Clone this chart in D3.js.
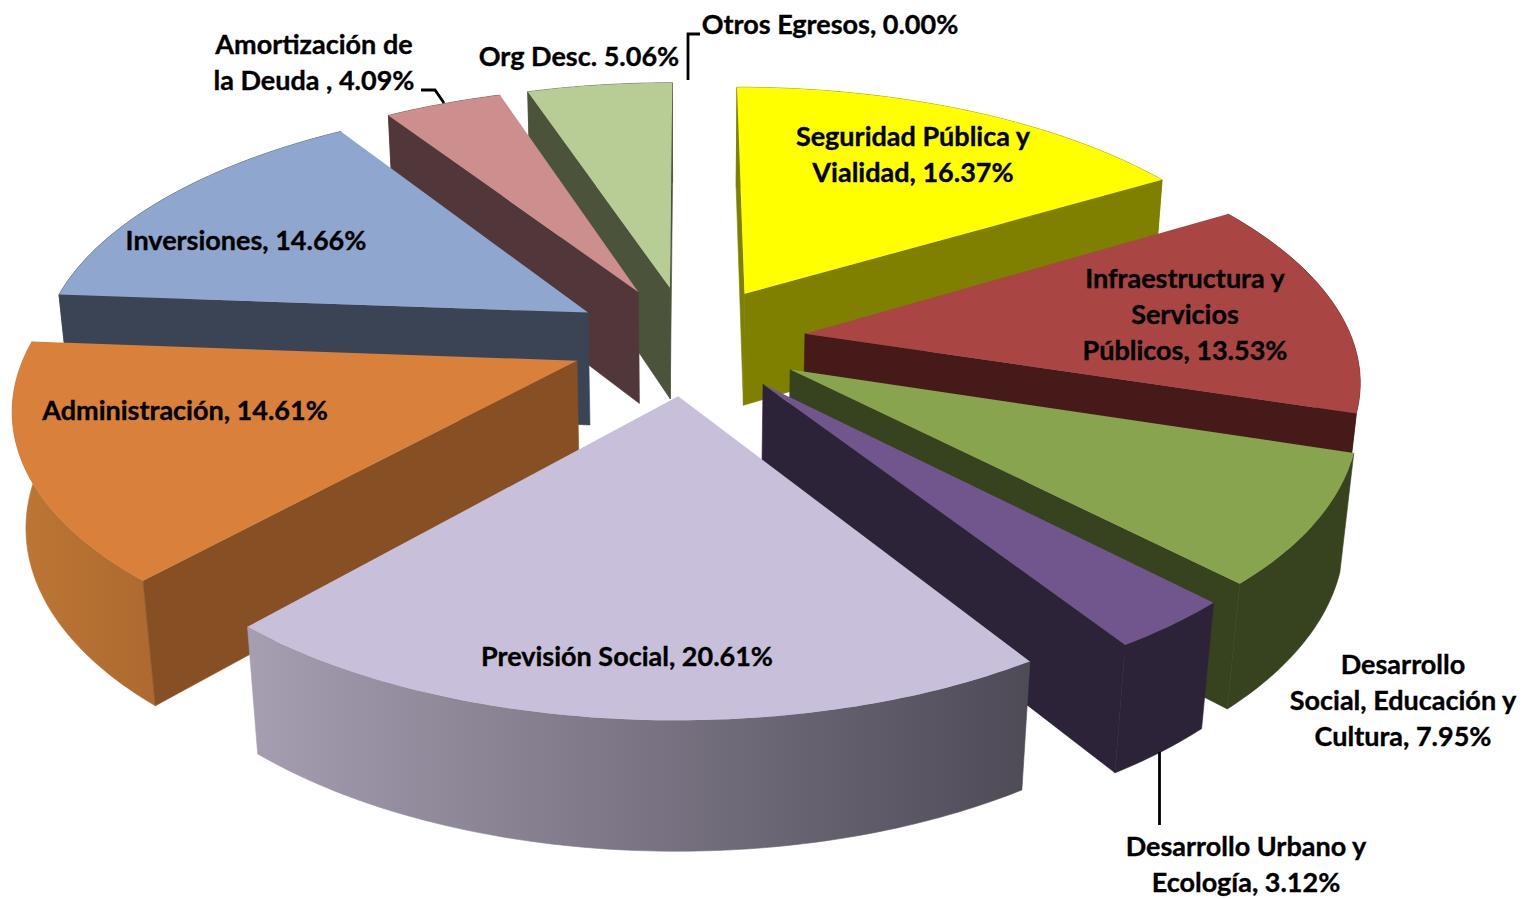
<!DOCTYPE html>
<html lang="es">
<head>
<meta charset="utf-8">
<script src="https://cdnjs.cloudflare.com/ajax/libs/d3/7.8.5/d3.min.js"></script>
<style>
html,body{margin:0;padding:0;background:#fff;overflow:hidden}
svg{display:block}
text{font-family:Lato,"Open Sans",sans-serif;font-weight:700;font-size:27px;fill:#000;stroke:#000;stroke-width:.35px;text-anchor:middle}
</style>
</head>
<body>
<svg id="chart" width="1524" height="899"></svg>
<script>
// DATA
const categories = ["Seguridad Pública y Vialidad","Infraestructura y Servicios Públicos","Desarrollo Social, Educación y Cultura","Desarrollo Urbano y Ecología","Previsión Social","Administración","Inversiones","Amortización de la Deuda","Org Desc.","Otros Egresos"];
const values = [16.37,13.53,7.95,3.12,20.61,14.61,14.66,4.09,5.06,0.00];
const labelLines = [
  ["Seguridad Pública y","Vialidad, 16.37%"],
  ["Infraestructura y","Servicios","Públicos, 13.53%"],
  ["Desarrollo","Social, Educación y","Cultura, 7.95%"],
  ["Desarrollo Urbano y","Ecología, 3.12%"],
  ["Previsión Social, 20.61%"],
  ["Administración, 14.61%"],
  ["Inversiones, 14.66%"],
  ["Amortización de","la Deuda , 4.09%"],
  ["Org Desc. 5.06%"],
  ["Otros Egresos, 0.00%"]
];

// STYLE
const topColors  = ["#ffff00","#a94543","#88a44e","#70568d","#c8bfda","#d9803a","#8fa6cf","#cd8e8e","#b8cc96","#cccccc"];
const sideColors = ["#7f7f00","#451a18","#37421e","#2d2338","#6f6a78","#875024","#3a4455","#52373a","#4b543a","#666666"];
const arcLeft    = ["#7f7f00","#451a18","#37421e","#2d2338","#a69eb1","#bd7734","#3a4455","#52373a","#4b543a","#666666"];
const arcRight   = ["#7f7f00","#451a18","#37421e","#2d2338","#4e4a56","#ad6930","#3a4455","#52373a","#4b543a","#666666"];

// LAYOUT: label anchor (centre x, first baseline y)
const labelX = [913,1185,1403,1246,627,185,246,314,579,830];
const labelY = [146,288,674,856,666,420,250,54,66,34];
const lineStep = 36;
const leaders = [
  [[688,80],[688,34],[700,34]],
  [[421,90],[435,90],[444,103]],
  [[1159.5,752],[1159.5,825]]
];

// CAMERA (perspective projection of the pie plane)
const cx = 688, cy = 340, sxScale = 550, syScale = 254;
const persp = 0.159, explode = 0.215, radius = 0.995, depth = 116, depthPersp = 0.02;
function project(u, v, bottom) {
  const w = 1 - persp * v + (bottom ? depthPersp : 0);
  return [cx + sxScale * u / w, cy + (syScale * v + (bottom ? depth : 0)) / w];
}

const arcs = d3.pie().sort(null).value(d => d).startAngle(0).endAngle(2 * Math.PI)(values);
const line = d3.line().curve(d3.curveLinearClosed);
const svg = d3.select("#chart");
const defs = svg.append("defs");

const slices = arcs.map((a, i) => {
  const mid = (a.startAngle + a.endAngle) / 2;
  const ou = explode * Math.sin(mid), ov = -explode * Math.cos(mid);
  const pt = (r, th, b) => project(ou + r * radius * Math.sin(th), ov - r * radius * Math.cos(th), b);
  const steps = Math.max(2, Math.ceil((a.endAngle - a.startAngle) / 0.015));
  const ths = d3.range(steps + 1).map(k => a.startAngle + (a.endAngle - a.startAngle) * k / steps);
  return {i, a, mid, pt, ths, order: -Math.cos(mid)};
}).filter(s => s.a.value > 0).sort((p, q) => p.order - q.order);

slices.forEach(s => {
  const g = svg.append("g");
  const {i, a, pt, ths} = s;
  const startWall = [pt(0,0,false), pt(1,a.startAngle,false), pt(1,a.startAngle,true), pt(0,0,true)];
  const endWall   = [pt(0,0,false), pt(1,a.endAngle,false), pt(1,a.endAngle,true), pt(0,0,true)];
  const topArc = ths.map(t => pt(1,t,false));
  const botArc = ths.map(t => pt(1,t,true));
  const wall = topArc.concat(botArc.slice().reverse());
  const xs = d3.extent(wall, d => d[0]);
  const id = "g" + i;
  const grad = defs.append("linearGradient").attr("id", id).attr("gradientUnits","userSpaceOnUse")
    .attr("x1", xs[0]).attr("x2", xs[1]).attr("y1", 0).attr("y2", 0);
  grad.append("stop").attr("offset", 0).attr("stop-color", arcLeft[i]);
  grad.append("stop").attr("offset", 1).attr("stop-color", arcRight[i]);
  const fronts = [];
  if (d3.polygonArea(startWall) > 0) fronts.push(startWall);
  if (d3.polygonArea(endWall) < 0) fronts.push(endWall);
  g.append("path").attr("d", line(wall)).attr("fill", `url(#${id})`).attr("stroke", `url(#${id})`).attr("stroke-width", 0.6);
  fronts.forEach(w => g.append("path").attr("d", line(w)).attr("fill", sideColors[i]).attr("stroke", sideColors[i]).attr("stroke-width", 0.6));
  const top = [pt(0,0,false)].concat(topArc);
  g.append("path").attr("d", line(top)).attr("fill", topColors[i]);
});

// leader lines
const open = d3.line();
svg.append("g").selectAll("path").data(leaders).join("path")
  .attr("d", d => open(d)).attr("fill","none").attr("stroke","#000").attr("stroke-width",2.8);

// labels
const tg = svg.append("g");
labelLines.forEach((lines, i) => {
  const t = tg.append("text").attr("data-category", categories[i]);
  lines.forEach((l, k) => t.append("tspan").attr("x", labelX[i]).attr("y", labelY[i] + k * lineStep).text(l));
});
</script>
</body>
</html>
